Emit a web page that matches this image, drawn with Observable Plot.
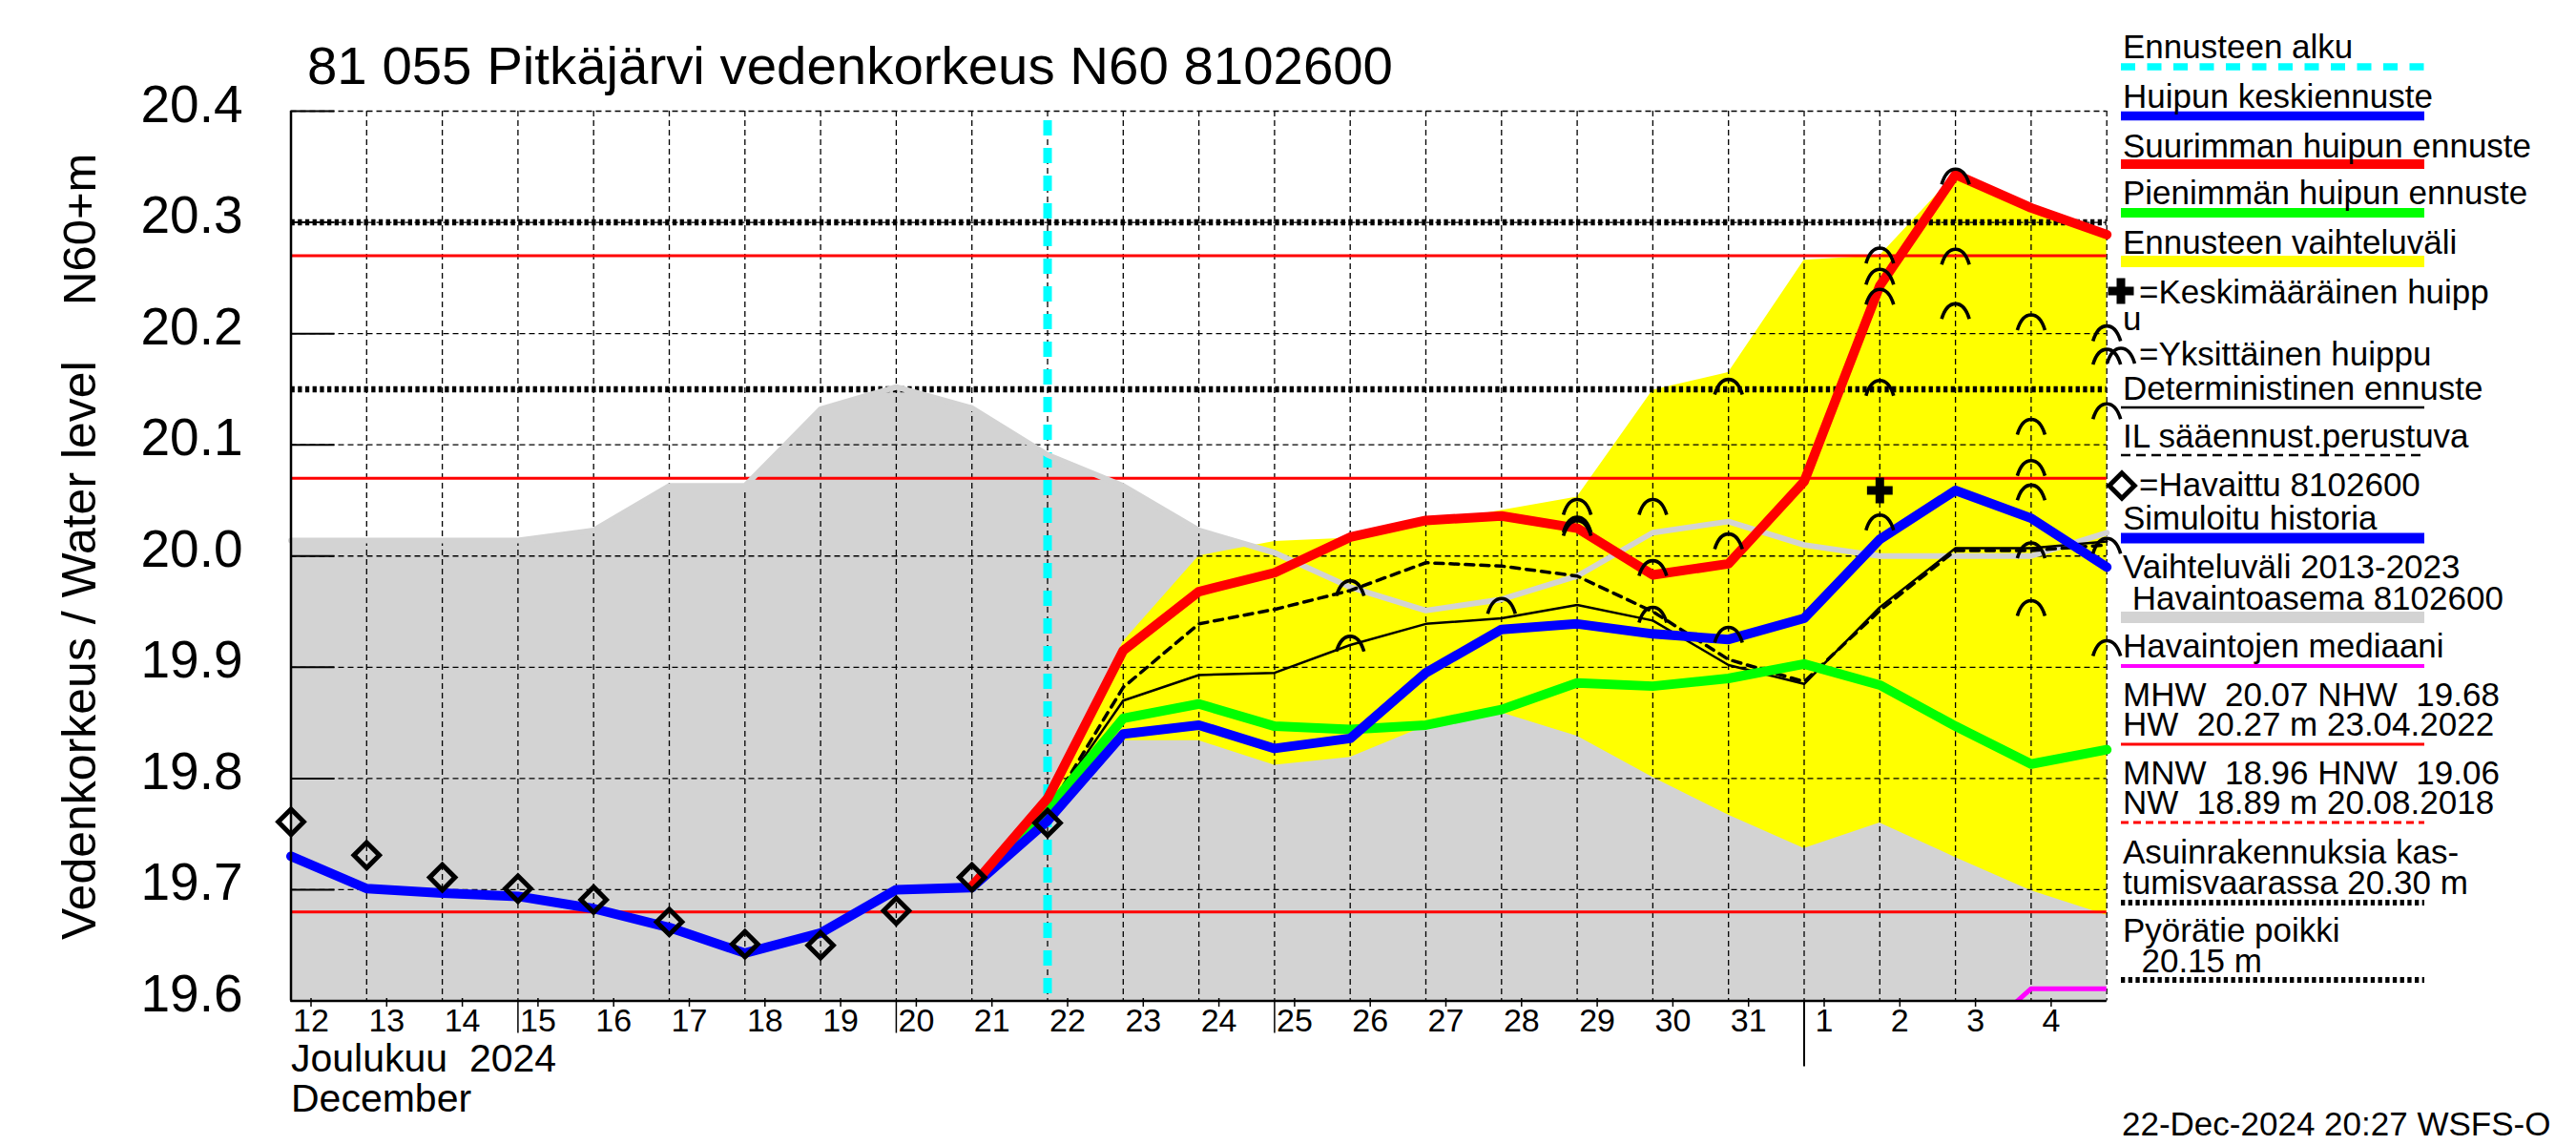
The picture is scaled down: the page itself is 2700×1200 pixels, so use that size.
<!DOCTYPE html>
<html><head><meta charset="utf-8">
<script src="https://cdn.jsdelivr.net/npm/d3@7"></script>
<script src="https://cdn.jsdelivr.net/npm/@observablehq/plot@0.6"></script>
<style>
html,body{margin:0;padding:0;background:#fff;}
#wrap{position:relative;width:2700px;height:1200px;overflow:hidden;background:#fff;}
#wrap > svg{position:absolute;left:0;top:0;}
.lbl{position:absolute;white-space:pre;color:#000;font-family:'Liberation Sans', Arial, Helvetica, sans-serif;margin:0;padding:0;}
</style></head><body><div id="wrap"></div>
<script>
// ---------------- data ----------------
const obsDates = ["2024-12-12","2024-12-13","2024-12-14","2024-12-15","2024-12-16","2024-12-17","2024-12-18","2024-12-19","2024-12-20","2024-12-21","2024-12-22"];
const obsValues = [19.761,19.731,19.711,19.701,19.691,19.671,19.651,19.650,19.681,19.711,19.760];

const simDates = ["2024-12-12","2024-12-13","2024-12-14","2024-12-15","2024-12-16","2024-12-17","2024-12-18","2024-12-19","2024-12-20","2024-12-21"];
const simValues = [19.730,19.701,19.697,19.694,19.683,19.666,19.643,19.661,19.700,19.702];

const fcDates = ["2024-12-21","2024-12-22","2024-12-23","2024-12-24","2024-12-25","2024-12-26","2024-12-27","2024-12-28","2024-12-29","2024-12-30","2024-12-31","2025-01-01","2025-01-02","2025-01-03","2025-01-04","2025-01-05"];
const meanPeakValues = [19.702,19.762,19.840,19.848,19.827,19.836,19.895,19.934,19.939,19.930,19.925,19.944,20.015,20.059,20.034,19.990];
const maxPeakValues  = [19.703,19.782,19.915,19.968,19.985,20.017,20.032,20.036,20.025,19.983,19.993,20.067,20.243,20.343,20.313,20.289];
const minPeakValues  = [19.702,19.772,19.854,19.867,19.847,19.844,19.848,19.862,19.886,19.883,19.890,19.903,19.884,19.847,19.813,19.826];
const rangeLowValues = [19.700,19.760,19.834,19.834,19.812,19.819,19.847,19.859,19.838,19.801,19.767,19.737,19.760,19.729,19.699,19.677];
const rangeHighValues= [19.703,19.785,19.923,20.000,20.013,20.016,20.029,20.041,20.053,20.149,20.165,20.266,20.270,20.343,20.313,20.289];

const detDates = ["2024-12-20","2024-12-21","2024-12-22","2024-12-23","2024-12-24","2024-12-25","2024-12-26","2024-12-27","2024-12-28","2024-12-29","2024-12-30","2024-12-31","2025-01-01","2025-01-02","2025-01-03","2025-01-04","2025-01-05"];
const detValues = [19.700,19.702,19.772,19.870,19.893,19.895,19.920,19.939,19.944,19.956,19.942,19.902,19.885,19.954,20.007,20.007,20.013];
const ilValues  = [19.700,19.702,19.770,19.882,19.939,19.952,19.969,19.994,19.991,19.982,19.950,19.907,19.887,19.951,20.005,20.005,20.010];

const histDates = ["2024-12-12","2024-12-13","2024-12-14","2024-12-15","2024-12-16","2024-12-17","2024-12-18","2024-12-19","2024-12-20","2024-12-21","2024-12-22","2024-12-23","2024-12-24","2024-12-25","2024-12-26","2024-12-27","2024-12-28","2024-12-29","2024-12-30","2024-12-31","2025-01-01","2025-01-02","2025-01-03","2025-01-04","2025-01-05"];
const histMaxValues = [20.014,20.014,20.014,20.014,20.023,20.063,20.063,20.132,20.152,20.133,20.091,20.063,20.023,20.003,19.972,19.951,19.961,19.982,20.021,20.031,20.010,20.000,20.000,20.000,20.021];
const histMinValues = [19.6,19.6,19.6,19.6,19.6,19.6,19.6,19.6,19.6,19.6,19.6,19.6,19.6,19.6,19.6,19.6,19.6,19.6,19.6,19.6,19.6,19.6,19.6,19.6,19.6];

const medianDates = ["2025-01-03","2025-01-04","2025-01-05"];
const medianValues = [19.55,19.611,19.611];

const peakDates  = ["2024-12-26","2024-12-26","2024-12-28","2024-12-29","2024-12-29","2024-12-29","2024-12-30","2024-12-30","2024-12-30","2024-12-31","2024-12-31","2024-12-31","2025-01-02","2025-01-02","2025-01-02","2025-01-02","2025-01-02","2025-01-03","2025-01-03","2025-01-03","2025-01-04","2025-01-04","2025-01-04","2025-01-04","2025-01-04","2025-01-04","2025-01-05","2025-01-05","2025-01-05","2025-01-05","2025-01-05"];
const peakValues = [19.971,19.921,19.955,20.044,20.028,20.025,20.044,19.989,19.947,20.152,20.013,19.929,20.270,20.251,20.233,20.151,20.030,20.341,20.269,20.220,20.210,20.116,20.079,20.057,20.005,19.953,20.200,20.179,20.130,20.009,19.917];

const meanPeakDate = ["2025-01-02"];
const meanPeakValue = [20.059];

const forecastStart = ["2024-12-22"];
const redLevels = [20.27, 20.07, 19.68];
const dottedLevels = [20.30, 20.15];

const xTickDates = ["2024-12-12","2024-12-13","2024-12-14","2024-12-15","2024-12-16","2024-12-17","2024-12-18","2024-12-19","2024-12-20","2024-12-21","2024-12-22","2024-12-23","2024-12-24","2024-12-25","2024-12-26","2024-12-27","2024-12-28","2024-12-29","2024-12-30","2024-12-31","2025-01-01","2025-01-02","2025-01-03","2025-01-04"];
const xGridDates = ["2024-12-13","2024-12-14","2024-12-15","2024-12-16","2024-12-17","2024-12-18","2024-12-19","2024-12-20","2024-12-21","2024-12-22","2024-12-23","2024-12-24","2024-12-25","2024-12-26","2024-12-27","2024-12-28","2024-12-29","2024-12-30","2024-12-31","2025-01-01","2025-01-02","2025-01-03","2025-01-04","2025-01-05"];
const longTickDates = ["2024-12-15","2024-12-20","2024-12-25"];
const monthTickDates = ["2025-01-01"];
const yTicks = [19.6,19.7,19.8,19.9,20.0,20.1,20.2,20.3,20.4];
const xDomain = ["2024-12-12","2025-01-05"];
const yDomain = [19.6, 20.4];

const titleText = "81 055 Pitkäjärvi vedenkorkeus N60 8102600";
const yTitle1 = "N60+m";
const yTitle2 = "Vedenkorkeus / Water level";
const monthLabels = ["Joulukuu  2024", "December"];
const footerText = "22-Dec-2024 20:27 WSFS-O";

// legend entries: [x, first baseline, text, line step]
const legendTexts = [
  [2225, 61, "Ennusteen alku", 30],
  [2225, 113, "Huipun keskiennuste", 30],
  [2225, 165, "Suurimman huipun ennuste", 30],
  [2225, 214, "Pienimmän huipun ennuste", 30],
  [2225, 266, "Ennusteen vaihteluväli", 30],
  [2242, 318, "=Keskimääräinen huipp", 28],
  [2225, 346, "u", 28],
  [2242, 383, "=Yksittäinen huippu", 30],
  [2225, 419, "Deterministinen ennuste", 30],
  [2225, 469, "IL sääennust.perustuva", 30],
  [2242, 520, "=Havaittu 8102600", 30],
  [2225, 555, "Simuloitu historia", 30],
  [2225, 606, "Vaihteluväli 2013-2023\n Havaintoasema 8102600", 33],
  [2225, 689, "Havaintojen mediaani", 30],
  [2225, 740, "MHW  20.07 NHW  19.68\nHW  20.27 m 23.04.2022", 31],
  [2225, 822, "MNW  18.96 HNW  19.06\nNW  18.89 m 20.08.2018", 31],
  [2225, 905, "Asuinrakennuksia kas-\ntumisvaarassa 20.30 m", 32],
  [2225, 987, "Pyörätie poikki\n  20.15 m", 32]
];

// ---------------- helpers ----------------
const D = s => new Date(s + "T00:00:00Z");
const zip = (ds, vs) => ds.map((d, i) => ({date: D(d), v: vs[i]}));

const obs = zip(obsDates, obsValues);
const sim = zip(simDates, simValues);
const meanPeak = zip(fcDates, meanPeakValues);
const maxPeak = zip(fcDates, maxPeakValues);
const minPeak = zip(fcDates, minPeakValues);
const band = fcDates.map((d, i) => ({date: D(d), lo: rangeLowValues[i], hi: rangeHighValues[i]}));
const det = zip(detDates, detValues);
const il = zip(detDates, ilValues);
const hist = histDates.map((d, i) => ({date: D(d), lo: histMinValues[i], hi: histMaxValues[i]}));
const median = zip(medianDates, medianValues);
const peaks = zip(peakDates, peakValues);
const mp = zip(meanPeakDate, meanPeakValue);

const arcSymbol = {
  draw(ctx, size) {
    const r = Math.sqrt(size / Math.PI);
    ctx.moveTo(-r, 0.55 * r);
    ctx.bezierCurveTo(-0.85 * r, 0.05 * r, -0.6 * r, -0.55 * r, 0, -0.55 * r);
    ctx.bezierCurveTo(0.6 * r, -0.55 * r, 0.85 * r, 0.05 * r, r, 0.55 * r);
  }
};

const FONT = "'Liberation Sans', Arial, Helvetica, sans-serif";
const GRAY = "#d3d3d3";

const chart = Plot.plot({
  width: 2700, height: 1200,
  marginLeft: 304.5, marginRight: 492.3, marginTop: 116, marginBottom: 151.5,
  x: {type: "utc", domain: xDomain.map(D), label: null},
  y: {domain: yDomain, label: null},
  style: {fontFamily: FONT, background: "white", color: "black", overflow: "visible"},
  marks: [
    Plot.areaY(hist, {x: "date", y1: "lo", y2: "hi", fill: GRAY, curve: "linear"}),
    Plot.areaY(band, {x: "date", y1: "lo", y2: "hi", fill: "#ffff00", curve: "linear"}),
    Plot.gridX(xGridDates.map(D), {stroke: "black", strokeOpacity: 1, strokeWidth: 1.3, strokeDasharray: "6,4"}),
    Plot.gridY(yTicks, {stroke: "black", strokeOpacity: 1, strokeWidth: 1.3, strokeDasharray: "6,4"}),
    Plot.ruleY(redLevels, {stroke: "#ff0000", strokeWidth: 3}),
    Plot.ruleY(dottedLevels, {stroke: "black", strokeWidth: 6.5, strokeDasharray: "4.3,3.4"}),
    Plot.ruleX(forecastStart.map(D), {stroke: "#00ffff", strokeWidth: 9, strokeDasharray: "16,13", strokeDashoffset: -10}),
    Plot.line(hist, {x: "date", y: "hi", stroke: GRAY, strokeWidth: 6}),
    Plot.line(median, {x: "date", y: "v", stroke: "#ff00ff", strokeWidth: 5, clip: true}),
    Plot.line(il, {x: "date", y: "v", stroke: "black", strokeWidth: 3.5, strokeDasharray: "9,7"}),
    Plot.line(det, {x: "date", y: "v", stroke: "black", strokeWidth: 2.5}),
    Plot.line(minPeak, {x: "date", y: "v", stroke: "#00ff00", strokeWidth: 10, strokeLinejoin: "round"}),
    Plot.line(sim, {x: "date", y: "v", stroke: "#0000ff", strokeWidth: 10, strokeLinejoin: "round"}),
    Plot.line(meanPeak, {x: "date", y: "v", stroke: "#0000ff", strokeWidth: 10, strokeLinejoin: "round"}),
    Plot.line(maxPeak, {x: "date", y: "v", stroke: "#ff0000", strokeWidth: 10, strokeLinejoin: "round"}),
    Plot.dot(peaks, {x: "date", y: "v", symbol: arcSymbol, r: 14.5, stroke: "black", fill: "none", strokeWidth: 3.6}),
    Plot.dot(mp, {x: "date", y: "v", symbol: "cross", r: 11.3, fill: "black", stroke: "none"}),
    Plot.dot(obs, {x: "date", y: "v", symbol: "diamond2", r: 12, stroke: "black", fill: "none", strokeWidth: 5}),
    Plot.ruleX([D(xDomain[0])], {stroke: "black", strokeWidth: 2.5}),
    Plot.ruleY([yDomain[0]], {stroke: "black", strokeWidth: 2.5}),
    Plot.axisY(yTicks, {tickSize: 0, tickPadding: 50.5, fontSize: 55, tickFormat: d => d.toFixed(1), dy: -6.6}),
    Plot.axisY(yTicks, {tickSize: -46, tickFormat: () => "", strokeWidth: 2}),
    Plot.axisX(xTickDates.map(D), {tickSize: 9, tickPadding: 1, fontSize: 34, tickFormat: d => String(d.getUTCDate()), textAnchor: "middle", dx: 21, dy: -2.5, strokeWidth: 1.5}),
    Plot.axisX(longTickDates.map(D), {tickSize: 34, tickFormat: () => "", strokeWidth: 1.5}),
    Plot.axisX(monthTickDates.map(D), {tickSize: 69, tickFormat: () => "", strokeWidth: 2})
  ]
});

const wrap = document.getElementById("wrap");
wrap.appendChild(chart);

// ---------------- overlay graphics (SVG) ----------------
const ov = d3.create("svg").attr("width", 2700).attr("height", 1200)
  .style("font-family", FONT).style("pointer-events", "none");

ov.append("text").attr("x", 322).attr("y", 88).attr("font-size", 56.4).text(titleText);
ov.append("text").attr("transform", "translate(100,320) rotate(-90)").attr("font-size", 49).text(yTitle1);
ov.append("text").attr("transform", "translate(100,985) rotate(-90)").attr("font-size", 50).text(yTitle2);
ov.append("text").attr("x", 2224).attr("y", 1190).attr("font-size", 35).text(footerText);

const legendLines = [
  [70, "#00ffff", 7.5, "15,12.5"],
  [121.5, "#0000ff", 9.5, null],
  [172, "#ff0000", 10, null],
  [223, "#00ff00", 10, null],
  [274, "#ffff00", 12, null],
  [427, "black", 2.5, null],
  [477, "black", 2.5, "10,6"],
  [564, "#0000ff", 11, null],
  [647, GRAY, 12, null],
  [698, "#ff00ff", 4, null],
  [780, "#ff0000", 3, null],
  [862, "#ff0000", 3, "8,5"],
  [946, "black", 6, "4.3,3.4"],
  [1027, "black", 6, "4.3,3.4"]
];
legendLines.forEach(([y, c, w, dash]) => {
  ov.append("line").attr("x1", 2223).attr("x2", 2541).attr("y1", y).attr("y2", y)
    .attr("stroke", c).attr("stroke-width", w).attr("stroke-dasharray", dash);
});
ov.append("path").attr("transform", "translate(2223,305)")
  .attr("d", d3.symbol(d3.symbolCross, 405)()).attr("fill", "black");
ov.append("path").attr("transform", "translate(2223,373)")
  .attr("d", d3.symbol(arcSymbol, Math.PI * 14.5 * 14.5)()).attr("fill", "none").attr("stroke", "black").attr("stroke-width", 3.6);
ov.append("path").attr("transform", "translate(2224,509)")
  .attr("d", d3.symbol(d3.symbolDiamond2, Math.PI * 12 * 12)()).attr("fill", "none").attr("stroke", "black").attr("stroke-width", 5);
wrap.appendChild(ov.node());

// ---------------- HTML text blocks (one text node per block) ----------------
// baseline -> top for Liberation Sans: top = baseline - (L/2 + 0.3465*F)
function block(x, baseline, text, F, L) {
  const div = document.createElement("div");
  div.className = "lbl";
  div.style.left = x + "px";
  div.style.top = (baseline - (L / 2 + 0.3465 * F)) + "px";
  div.style.fontSize = F + "px";
  div.style.lineHeight = L + "px";
  div.textContent = text;
  wrap.appendChild(div);
}
block(305, 1123, monthLabels[0], 41, 30);
block(305, 1165, monthLabels[1], 41, 30);
legendTexts.forEach(([x, y, s, step]) => block(x, y, s, 35, step));
</script>
</body></html>
